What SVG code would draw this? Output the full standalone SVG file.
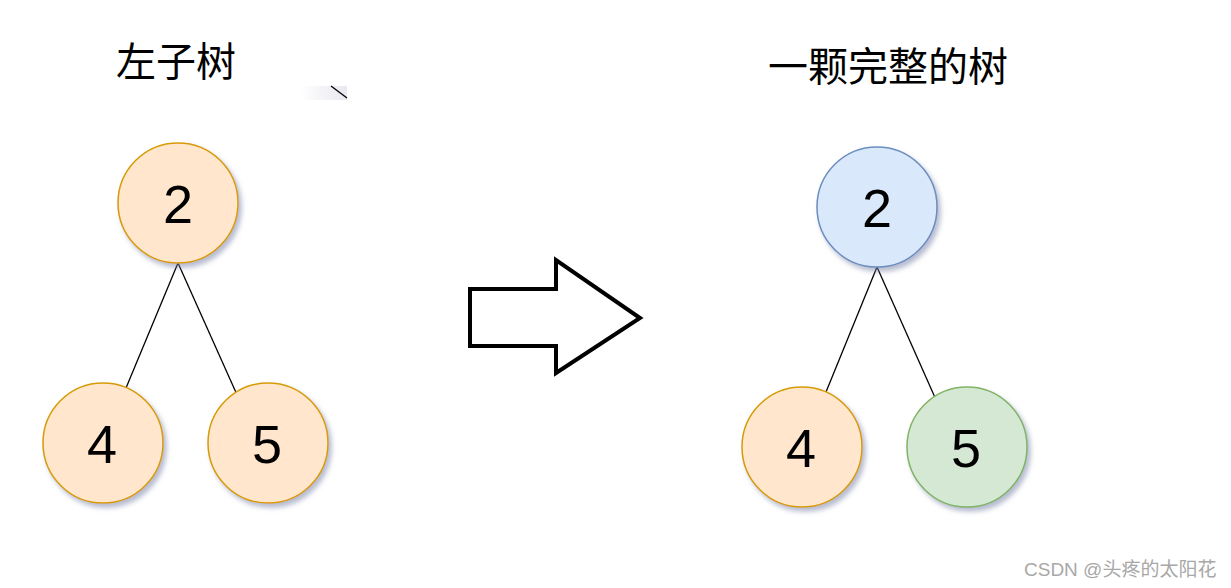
<svg xmlns="http://www.w3.org/2000/svg" width="1231" height="588" viewBox="0 0 1231 588">
<defs>
<filter id="sh" x="-30%" y="-30%" width="170%" height="170%">
<feDropShadow dx="3" dy="4" stdDeviation="2.5" flood-color="#7a84a8" flood-opacity="0.55"/>
</filter>
<linearGradient id="fade" x1="0" y1="0" x2="1" y2="0">
<stop offset="0" stop-color="#ffffff"/>
<stop offset="1" stop-color="#e8e8f0"/>
</linearGradient>
<style>
.orange{fill:#ffe6cc;stroke:#d79b00;stroke-width:1.5;filter:url(#sh)}
.blue{fill:#dae8fc;stroke:#6c8ebf;stroke-width:1.5;filter:url(#sh)}
.green{fill:#d5e8d4;stroke:#82b366;stroke-width:1.5;filter:url(#sh)}
.num{font-family:"Liberation Sans",Arial,sans-serif;font-size:54px;fill:#000;text-anchor:middle}
.title{font-family:"Noto Sans CJK SC","Noto Sans CJK JP",sans-serif;font-size:40px;fill:#000}
.edge{stroke:#000;stroke-width:1.3;fill:none}
</style>
</defs>
<rect width="1231" height="588" fill="#ffffff"/>
<text class="title" x="116" y="76">左子树</text>
<text class="title" x="768" y="81">一颗完整的树</text>
<g id="fragment">
<rect x="300" y="86" width="47" height="14" fill="url(#fade)"/>
<line x1="331" y1="86" x2="347" y2="98" stroke="#000" stroke-width="1.3"/>
</g>
<g id="connectors">
<line class="edge" x1="178" y1="263" x2="126" y2="388"/>
<line class="edge" x1="178" y1="263" x2="238" y2="397"/>
<line class="edge" x1="877" y1="267" x2="826" y2="392"/>
<line class="edge" x1="877" y1="267" x2="937" y2="402"/>
</g>
<g id="L2"><circle class="orange" cx="178" cy="203" r="60"/><text class="num" x="178" y="223">2</text></g>
<g id="L4"><circle class="orange" cx="103" cy="443" r="60"/><text class="num" x="102" y="463">4</text></g>
<g id="L5"><circle class="orange" cx="268" cy="443" r="60"/><text class="num" x="267" y="463">5</text></g>
<g id="R2"><circle class="blue" cx="877" cy="207" r="60"/><text class="num" x="877" y="227">2</text></g>
<g id="R4"><circle class="orange" cx="802" cy="447" r="60"/><text class="num" x="801" y="467">4</text></g>
<g id="R5"><circle class="green" cx="967" cy="447" r="60"/><text class="num" x="966" y="467">5</text></g>
<g id="arrow">
<polygon points="470,289 556,289 556,260 640,318 556,373 556,346 470,346" fill="#fff" stroke="#000" stroke-width="4" stroke-linejoin="miter"/>
</g>
<text x="1024" y="576" font-family="'Liberation Sans','Noto Sans CJK SC',sans-serif" font-size="19" fill="#a8a8a8">CSDN @头疼的太阳花</text>
</svg>
